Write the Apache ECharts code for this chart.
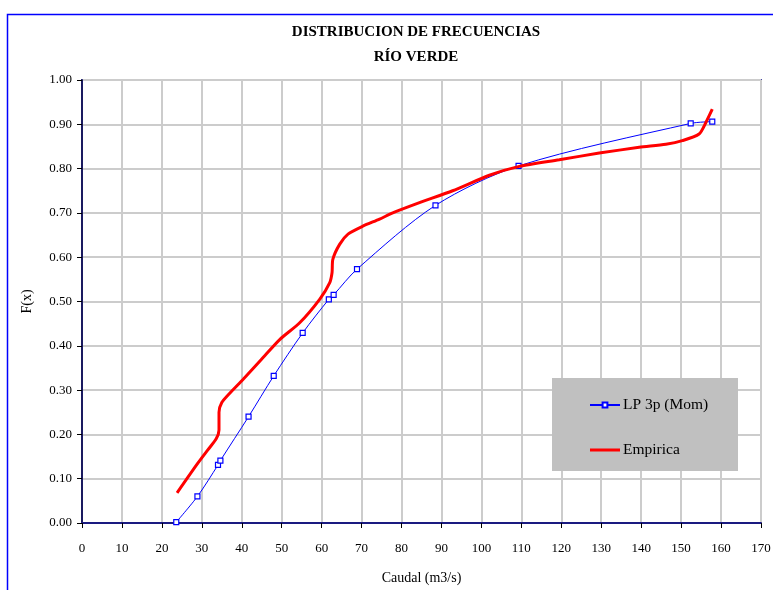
<!DOCTYPE html>
<html>
<head>
<meta charset="utf-8">
<script src="https://cdn.jsdelivr.net/npm/echarts@6/dist/echarts.min.js"></script>
<style>html,body{margin:0;padding:0;background:#fff}#c{width:773px;height:590px}</style>
</head>
<body>
<div id="c"></div>
<script>
var titleText = 'DISTRIBUCION DE FRECUENCIAS';
var subtitleText = 'RÍO VERDE';
var xAxisName = 'Caudal (m3/s)';
var yAxisName = 'F(x)';
var seriesNames = ['LP 3p (Mom)', 'Empirica'];

// LP 3p (Mom) points: caudal, F(x)
var lpX = [23.6, 28.9, 34.05, 34.65, 41.7, 48.0, 55.25, 61.8, 63.0, 68.85, 88.5, 109.3, 152.4, 157.8];
var lpY = [0.002, 0.060, 0.131, 0.141, 0.240, 0.332, 0.429, 0.505, 0.515, 0.573, 0.717, 0.806, 0.902, 0.906];

// Empirica curve points
var empX = [23.8, 29.0, 31.5, 33.6, 34.3, 34.3, 35.0, 37.0, 40.3, 44.9, 49.5, 54.5, 59.5, 62.0, 62.6, 62.8, 64.5, 66.6, 70.3, 74.5, 77.8, 84.5, 92.8, 102.0, 109.5, 119.5, 129.5, 139.5, 146.2, 150.3, 154.5, 156.2, 157.8];
var empY = [0.068, 0.135, 0.165, 0.190, 0.210, 0.250, 0.272, 0.293, 0.324, 0.369, 0.414, 0.452, 0.505, 0.542, 0.565, 0.595, 0.629, 0.652, 0.670, 0.686, 0.700, 0.723, 0.750, 0.785, 0.805, 0.820, 0.835, 0.848, 0.855, 0.863, 0.878, 0.904, 0.934];

function pairs(xs, ys) { return xs.map(function (x, i) { return [x, ys[i]]; }); }

var font = '"Liberation Serif", "DejaVu Serif", serif';
var chart = echarts.init(document.getElementById('c'), null, { renderer: 'canvas' });
chart.setOption({
  animation: false,
  backgroundColor: '#fff',
  textStyle: { fontFamily: font },
  graphic: [
    { type: 'rect', shape: { x: 7.5, y: 14.5, width: 900, height: 700 }, style: { fill: 'none', stroke: '#0000ff', lineWidth: 1.5 }, z: 0 },
    { type: 'rect', shape: { x: 552, y: 378, width: 186, height: 93 }, style: { fill: '#c0c0c0' }, z: 10 }
  ],
  title: [
    { text: titleText, left: 411, top: 20, textAlign: 'center', textStyle: { fontFamily: font, fontSize: 15, fontWeight: 'bold', color: '#000' } },
    { text: subtitleText, left: 411, top: 45, textAlign: 'center', textStyle: { fontFamily: font, fontSize: 15, fontWeight: 'bold', color: '#000' } }
  ],
  legend: {
    orient: 'vertical', left: 584, top: 392, itemGap: 29, itemWidth: 30, itemHeight: 6,
    symbolKeepAspect: true,
    z: 20,
    textStyle: { fontFamily: font, fontSize: 15.5, color: '#000', padding: [0, 0, 0, -2] },
    data: [
      { name: seriesNames[0] },
      { name: seriesNames[1], icon: 'path://M0,0 L30,0 L30,3 L0,3 Z' }
    ]
  },
  grid: { left: 82, top: 80, right: 12, bottom: 67, outerBoundsMode: 'none', containLabel: false, show: true, borderColor: '#4848a8', borderWidth: 2, backgroundColor: 'transparent' },
  xAxis: {
    type: 'value', min: 0, max: 170, interval: 10,
    name: xAxisName, nameLocation: 'middle', nameGap: 48,
    nameTextStyle: { fontFamily: font, fontSize: 14, color: '#000' },
    axisLine: { lineStyle: { color: '#1a1a80', width: 2 } },
    axisTick: { show: true, length: 5, lineStyle: { color: '#000' } },
    axisLabel: { fontFamily: font, fontSize: 13, color: '#000', margin: 19 },
    splitLine: { show: true, lineStyle: { color: '#cccccc', width: 2 } }
  },
  yAxis: {
    type: 'value', min: 0, max: 1, interval: 0.1,
    name: yAxisName, nameLocation: 'middle', nameGap: 48, nameRotate: 90,
    nameTextStyle: { fontFamily: font, fontSize: 14, color: '#000' },
    axisLine: { show: true, lineStyle: { color: '#1a1a60', width: 2 } },
    axisTick: { show: true, length: 5, lineStyle: { color: '#000' } },
    axisLabel: { fontFamily: font, fontSize: 13, color: '#000', margin: 10, formatter: function (v) { return v.toFixed(2); } },
    splitLine: { show: true, lineStyle: { color: '#cccccc', width: 2 } }
  },
  series: [
    {
      name: seriesNames[0], type: 'line', data: pairs(lpX, lpY), smooth: 0.3,
      symbol: 'rect', symbolSize: 5, showAllSymbol: true,
      lineStyle: { color: '#0000ff', width: 1 },
      itemStyle: { color: '#ffffff', borderColor: '#0000ff', borderWidth: 1.2 },
      z: 3
    },
    {
      name: seriesNames[1], type: 'line', data: pairs(empX, empY), smooth: 0.25,
      symbol: 'none',
      lineStyle: { color: '#ff0000', width: 3 },
      itemStyle: { color: '#ff0000' },
      z: 4
    }
  ]
});
</script>
</body>
</html>
